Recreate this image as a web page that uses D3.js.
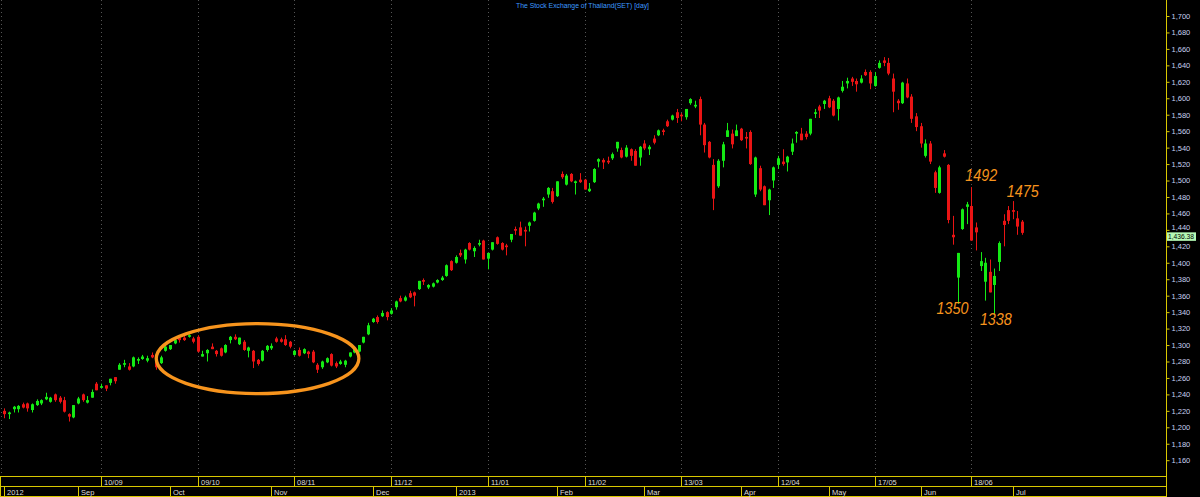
<!DOCTYPE html>
<html lang="en">
<head>
    <meta charset="UTF-8">
    <title>The Stock Exchange of Thailand(SET) [day]</title>
    <script src="https://d3js.org/d3.v7.min.js"></script>
    <style>
        body { margin: 0; background: #000; }
        svg { display: block; }
        .price-axis text { fill: #c8d0f0; font-family: "Liberation Sans", Arial, sans-serif; font-size: 7.5px; }
        .price-axis line { stroke: #d8c800; }
        .price-axis path { display: none; }
        .date-label { fill: #dcdcdc; font-family: "Liberation Sans", Arial, sans-serif; font-size: 7.5px; }
        .note { fill: #f7941d; font-family: "Liberation Sans", Arial, sans-serif; font-size: 17px; font-style: italic; }
    </style>
</head>
<body>
    <div id="chart"></div>

    <script>
        // daily bars, Aug 2012 - Jul 2013
        const opens = [
            1220,1216,1222,1222,1228,1229,1221,1227,1229,1234,1231,1240,1236,1233,1216,1212,1229,1240,1230,1236,
            1253,1248,1251,1254,1261,1270,1276,1274,1274,1281,1283,1281,1288,1283,1278,1293,1295,1302,1309,1309,
            1310,1308,1310,1286,1290,1298,1293,1296,1291,1306,1310,1301,1304,1293,1293,1282,1281,1294,1296,1308,
            1307,1307,1304,1288,1294,1290,1292,1292,1276,1273,1279,1289,1278,1277,1276,1286,1291,1292,1303,1313,
            1328,1334,1335,1340,1338,1346,1357,1354,1363,1364,1368,1379,1370,1371,1376,1379,1384,1402,1400,1412,
            1404,1424,1414,1422,1427,1405,1416,1431,1424,1421,1428,1441,1443,1440,1445,1451,1466,1476,1483,1487,
            1481,1508,1495,1508,1497,1501,1501,1487,1498,1523,1525,1524,1527,1539,1537,1529,1538,1536,1528,1545,
            1538,1551,1555,1561,1572,1574,1583,1580,1577,1594,1590,1599,1568,1547,1519,1493,1524,1553,1557,1554,
            1563,1553,1559,1483,1515,1493,1476,1500,1519,1523,1522,1535,1557,1557,1557,1557,1581,1590,1593,1600,
            1597,1587,1609,1618,1624,1621,1619,1632,1632,1615,1637,1646,1643,1624,1597,1594,1618,1602,1578,1566,
            1530,1545,1510,1485,1533,1519,1434,1382,1441,1468,1469,1443,1396,1377,1389,1373,1401,1451,1464,1464,
            1454,1450
        ];
        const highs = [
            1223,1219,1226,1227,1230,1230,1229,1234,1234,1242,1237,1241,1238,1237,1217,1227,1237,1241,1238,1246,
            1255,1253,1251,1259,1261,1278,1282,1278,1286,1285,1288,1287,1291,1286,1287,1300,1300,1307,1310,1311,
            1313,1310,1312,1293,1295,1302,1294,1297,1301,1311,1313,1309,1306,1298,1294,1283,1294,1300,1302,1310,
            1309,1312,1305,1294,1297,1296,1293,1294,1278,1281,1285,1290,1280,1282,1282,1291,1296,1300,1310,1327,
            1333,1336,1342,1341,1345,1354,1360,1360,1366,1365,1378,1381,1374,1376,1380,1384,1398,1403,1409,1416,
            1417,1425,1420,1428,1428,1412,1425,1432,1425,1423,1435,1444,1450,1444,1450,1462,1473,1480,1492,1491,
            1499,1511,1508,1509,1500,1509,1502,1497,1515,1527,1527,1529,1534,1547,1540,1543,1539,1538,1542,1549,
            1543,1555,1562,1563,1574,1580,1587,1582,1587,1600,1597,1602,1570,1548,1526,1526,1547,1570,1562,1568,
            1564,1559,1561,1529,1518,1494,1490,1517,1530,1538,1530,1551,1560,1564,1560,1575,1587,1592,1598,1603,
            1599,1602,1621,1625,1626,1624,1628,1635,1634,1632,1646,1650,1649,1630,1599,1620,1624,1605,1582,1570,
            1550,1548,1512,1518,1537,1520,1457,1412,1466,1474,1492,1449,1413,1406,1404,1393,1426,1459,1469,1475,
            1463,1452
        ];
        const lows = [
            1211,1210,1218,1218,1223,1219,1218,1226,1227,1233,1230,1231,1229,1218,1207,1211,1228,1231,1229,1236,
            1245,1248,1244,1251,1253,1270,1273,1269,1273,1277,1282,1279,1284,1270,1277,1292,1294,1301,1303,1305,
            1309,1302,1291,1286,1280,1295,1286,1286,1290,1302,1306,1300,1293,1285,1272,1275,1280,1292,1294,1303,
            1303,1299,1296,1287,1286,1289,1284,1278,1266,1271,1278,1274,1272,1276,1273,1285,1290,1291,1302,1312,
            1327,1326,1334,1330,1337,1343,1352,1353,1357,1347,1367,1373,1368,1370,1375,1378,1383,1390,1399,1407,
            1399,1415,1407,1420,1404,1392,1415,1422,1415,1409,1425,1434,1433,1420,1438,1450,1464,1468,1479,1472,
            1480,1502,1494,1498,1483,1497,1489,1486,1497,1516,1514,1520,1525,1535,1527,1528,1524,1518,1518,1537,
            1531,1544,1554,1555,1565,1573,1570,1572,1574,1592,1588,1555,1534,1527,1464,1491,1516,1553,1539,1554,
            1548,1539,1519,1480,1487,1470,1458,1491,1514,1518,1511,1531,1546,1549,1550,1555,1576,1576,1587,1588,
            1578,1573,1607,1612,1615,1608,1618,1627,1611,1614,1636,1639,1628,1583,1586,1593,1600,1570,1560,1540,
            1528,1520,1485,1484,1528,1448,1422,1350,1440,1447,1427,1415,1390,1354,1364,1338,1390,1420,1447,1453,
            1434,1434
        ];
        const closes = [
            1216,1218,1225,1226,1224,1223,1228,1232,1233,1237,1236,1233,1231,1219,1213,1227,1235,1233,1233,1243,
            1245,1250,1247,1259,1256,1276,1278,1270,1285,1283,1286,1284,1285,1273,1285,1298,1300,1306,1306,1306,
            1312,1304,1292,1289,1294,1295,1289,1287,1300,1310,1307,1309,1294,1297,1280,1277,1293,1299,1299,1304,
            1304,1300,1298,1293,1287,1295,1289,1279,1270,1280,1284,1275,1274,1280,1281,1291,1295,1300,1310,1324,
            1332,1328,1339,1334,1342,1353,1353,1358,1358,1360,1378,1377,1373,1375,1379,1382,1397,1391,1407,1409,
            1416,1416,1418,1424,1404,1412,1425,1423,1416,1419,1435,1439,1433,1438,1449,1461,1472,1478,1491,1474,
            1499,1504,1506,1499,1499,1498,1489,1490,1514,1526,1522,1522,1532,1547,1528,1540,1530,1518,1541,1539,
            1541,1546,1561,1559,1566,1579,1576,1578,1587,1599,1592,1568,1543,1528,1478,1524,1544,1561,1544,1561,
            1549,1551,1520,1528,1489,1470,1489,1516,1527,1520,1529,1545,1559,1549,1553,1575,1583,1585,1597,1589,
            1579,1601,1614,1621,1620,1617,1624,1628,1618,1627,1643,1643,1630,1608,1594,1619,1601,1575,1565,1545,
            1545,1523,1491,1516,1529,1452,1431,1412,1465,1471,1427,1437,1402,1400,1364,1384,1424,1446,1451,1462,
            1444,1436.38
        ];
        const lastClose = 1436.38;

        // price scale ticks
        const priceTicks = d3.range(1160, 1701, 20);

        // date rows: bar index of each tick and its label
        const dayTickBars = [21, 42, 63, 84, 105, 126, 147, 168, 189, 210];
        const dayTickLabels = ["10/09", "09/10", "08/11", "11/12", "11/01", "11/02", "13/03", "12/04", "17/05", "18/06"];
        const monthBars = [0, 16, 36, 58, 80, 98, 120, 139, 160, 179, 199, 219];
        const monthLabels = ["2012", "Sep", "Oct", "Nov", "Dec", "2013", "Feb", "Mar", "Apr", "May", "Jun", "Jul"];

        // hand notes on the chart
        const noteBars = [210, 219, 207, 215];
        const noteValues = [1492, 1475, 1350, 1338];
        // circled range: bars and price span
        const circleBars = [33, 77];
        const circleValues = [1241, 1326];

        const width = 1200;
        const height = 497;
        const axisX = 1166;
        const plotBottom = 476;

        const svg = d3.select("#chart")
            .append("svg")
            .attr("width", width)
            .attr("height", height)
            .style("background", "#000");

        const x = d3.scaleLinear()
            .domain([0, 221])
            .range([4.3, 4.3 + 4.605 * 221]);

        const y = d3.scaleLinear()
            .domain([1160, 1700])
            .range([460.2, 16]);

        // vertical dotted grid
        svg.selectAll(".vgrid")
            .data([-0.7].concat(dayTickBars))
            .enter().append("line")
            .attr("class", "vgrid")
            .attr("x1", d => Math.round(x(d)) + 0.5)
            .attr("x2", d => Math.round(x(d)) + 0.5)
            .attr("y1", 0)
            .attr("y2", plotBottom)
            .attr("stroke", "#555")
            .attr("stroke-dasharray", "1,3");

        // title
        svg.append("text")
            .attr("x", 582.5)
            .attr("y", 8)
            .attr("text-anchor", "middle")
            .attr("textLength", 133)
            .attr("lengthAdjust", "spacingAndGlyphs")
            .style("font-family", "'Liberation Sans', Arial, sans-serif")
            .style("font-size", "8px")
            .style("fill", "#3d9bff")
            .text("The Stock Exchange of Thailand(SET) [day]");

        // candles
        const bars = d3.range(closes.length).map(i => ({
            i: i, o: opens[i], h: highs[i], l: lows[i], c: closes[i]
        }));

        const candle = svg.append("g").selectAll("g")
            .data(bars)
            .enter().append("g");

        const colour = d => d.c >= d.o ? "#14ea14" : "#ea1414";

        candle.append("line")
            .attr("x1", d => Math.round(x(d.i)) + 0.5)
            .attr("x2", d => Math.round(x(d.i)) + 0.5)
            .attr("y1", d => y(d.h))
            .attr("y2", d => y(d.l))
            .attr("stroke", colour)
            .attr("stroke-width", 1);

        candle.append("rect")
            .attr("x", d => Math.round(x(d.i)) - 1)
            .attr("width", 3)
            .attr("y", d => y(Math.max(d.o, d.c)))
            .attr("height", d => Math.max(1, Math.abs(y(d.o) - y(d.c))))
            .attr("fill", colour);

        // orange ellipse
        svg.append("ellipse")
            .attr("cx", (x(circleBars[0]) + x(circleBars[1])) / 2)
            .attr("cy", (y(circleValues[0]) + y(circleValues[1])) / 2)
            .attr("rx", (x(circleBars[1]) - x(circleBars[0])) / 2)
            .attr("ry", (y(circleValues[0]) - y(circleValues[1])) / 2)
            .attr("fill", "none")
            .attr("stroke", "#f7941d")
            .attr("stroke-width", 3.3);

        // notes
        const noteShift = [[-6, -6.5], [-6, -3.6], [-21, 10.4], [-14.5, 11.3]];
        svg.selectAll(".note")
            .data(noteValues)
            .enter().append("text")
            .attr("class", "note")
            .attr("x", (d, k) => x(noteBars[k]) + noteShift[k][0])
            .attr("y", (d, k) => y(d) + noteShift[k][1])
            .attr("textLength", 32)
            .attr("lengthAdjust", "spacingAndGlyphs")
            .text(d => d);

        // price axis on the right
        svg.append("line")
            .attr("x1", axisX + 0.5).attr("x2", axisX + 0.5)
            .attr("y1", 0).attr("y2", plotBottom)
            .attr("stroke", "#d8c800");

        // 1,440 would sit under the last price box, so its label is left out of the axis text
        const priceAxis = d3.axisRight(y)
            .tickValues(priceTicks)
            .tickFormat(d3.format(","))
            .tickSize(3)
            .tickSizeOuter(0)
            .tickPadding(2);

        svg.append("g")
            .attr("class", "price-axis")
            .attr("transform", `translate(${axisX + 0.5},0)`)
            .call(priceAxis);

        // nudge the 1,440 label up a little so it clears the box
        svg.selectAll(".price-axis .tick")
            .filter(d => d === 1440)
            .select("text")
            .attr("dy", "-0.05em");

        // last price box
        const lastY = y(lastClose) + 3.5;
        svg.append("rect")
            .attr("x", axisX + 1)
            .attr("y", lastY - 4)
            .attr("width", 29)
            .attr("height", 8.5)
            .attr("fill", "#b4f8b4");
        svg.append("text")
            .attr("x", axisX + 2)
            .attr("y", lastY + 2.8)
            .attr("textLength", 26)
            .attr("lengthAdjust", "spacingAndGlyphs")
            .style("font-family", "'Liberation Sans', Arial, sans-serif")
            .style("font-size", "7.5px")
            .style("fill", "#000")
            .text(d3.format(",.2f")(lastClose));

        // date rows at the bottom
        const rows = [
            {top: 476.5, bottom: 486.5, bars: dayTickBars, labels: dayTickLabels},
            {top: 486.5, bottom: 496.5, bars: monthBars, labels: monthLabels}
        ];
        const yellow = "#d8c800";

        rows.forEach(row => {
            svg.append("rect")
                .attr("x", 0.5)
                .attr("y", row.top)
                .attr("width", axisX)
                .attr("height", row.bottom - row.top)
                .attr("fill", "none")
                .attr("stroke", yellow);

            svg.selectAll(null)
                .data(row.bars)
                .enter().append("line")
                .attr("x1", d => Math.round(x(d)) + 0.5)
                .attr("x2", d => Math.round(x(d)) + 0.5)
                .attr("y1", row.top)
                .attr("y2", row.bottom)
                .attr("stroke", yellow);

            svg.selectAll(null)
                .data(row.labels)
                .enter().append("text")
                .attr("class", "date-label")
                .attr("x", (d, k) => Math.round(x(row.bars[k])) + 3)
                .attr("y", row.bottom - 2)
                .text(d => d);
        });
    </script>
</body>
</html>
